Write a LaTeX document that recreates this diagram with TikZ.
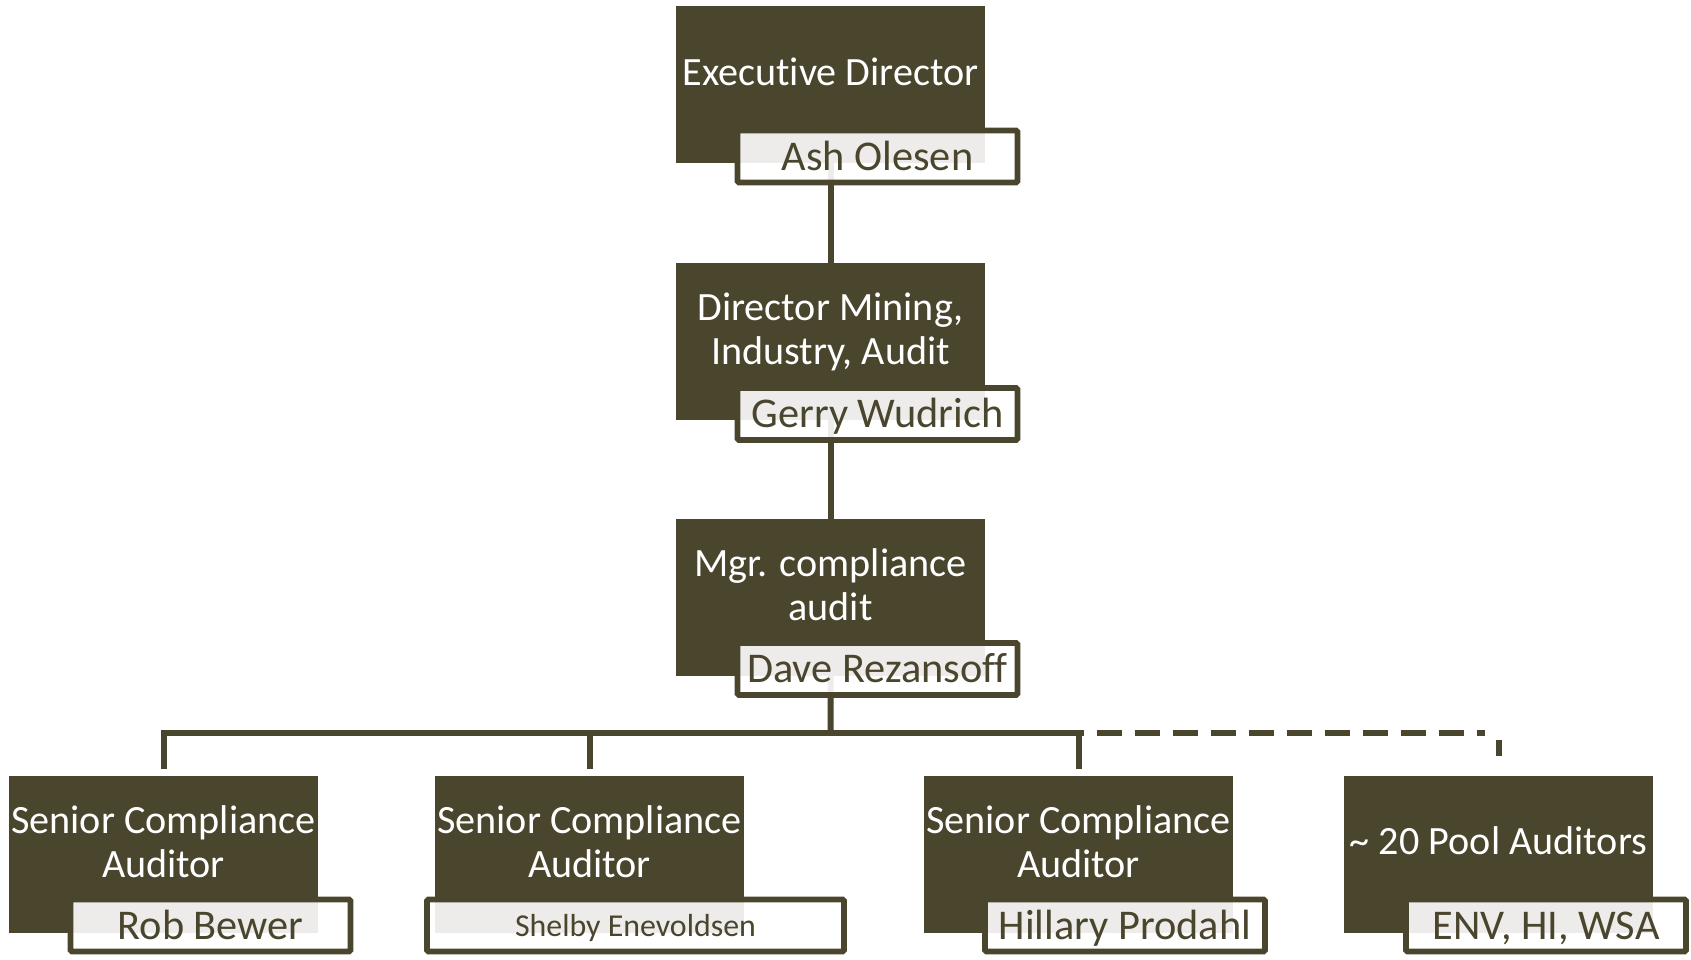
\documentclass[tikz,border=0pt]{standalone}
\usepackage{fontspec}
\setmainfont[Ligatures=NoCommon]{Carlito}
\usetikzlibrary{calc}
\definecolor{olive}{RGB}{74,69,45}
\begin{document}
\begin{tikzpicture}[x=1bp,y=-1bp,
  darkbox/.style={fill=olive, minimum width=309bp, minimum height=157bp, inner sep=0pt, outer sep=0pt, anchor=north west},
  namebox/.style={draw=olive, line width=5.8bp, fill=white, fill opacity=0.9, draw opacity=1, text opacity=1, text=olive,
    rounded corners=1.5bp, inner sep=0pt, outer sep=0pt, minimum width=280bp, minimum height=52bp,
    text height=27bp, text depth=0bp, font=\fontsize{42.5}{46}\selectfont},
  title/.style={text=white, align=center, font=\fontsize{40.3}{44}\selectfont, inner sep=0pt, anchor=base},
  conn/.style={draw=olive, line width=6bp},
]
\useasboundingbox (0,0) rectangle (1691,959);
\fill[white] (0,0) rectangle (1691,959);

% junction points
\coordinate (bus) at (830.5,733);
\coordinate (jA) at (163.5,769);
\coordinate (jB) at (589.5,769);
\coordinate (jC) at (1078.5,769);
\coordinate (jD) at (1498.5,756);
\coordinate (jDtop) at (1498.5,740);
\coordinate (busEnd) at (1485,733);

% dark boxes
\node[darkbox] (d1) at (676,6) {};
\node[darkbox] (d2) at (676,263) {};
\node[darkbox] (d3) at (676,519) {};
\node[darkbox] (dA) at (9,776) {};
\node[darkbox] (dB) at (435,776) {};
\node[darkbox] (dC) at (924,776) {};
\node[darkbox] (dD) at (1344,776) {};

% connectors
\draw[conn] (d1.south) -- (d2.north);
\draw[conn] (d2.south) -- (d3.north);
\draw[conn] (d3.south) -- (bus);
\draw[conn] (jA) |- (bus) -| (jC);
\draw[conn] (jB) -- (jB |- bus);
\draw[conn, dash pattern=on 25bp off 13bp] (bus) -- (busEnd);
\draw[conn] (jDtop) -- (jD);

% titles
\node[title] (t1) at (830.5,85) {Executive Director};
\node[title] (t2) at (830.5,364) {Director Mining,\\Industry, Audit};
\node[title] (t3) at (830.5,620) {Mgr. compliance\\audit};
\node[title] (tA) at (163.5,877) {Senior Compliance\\Auditor};
\node[title] (tB) at (589.5,877) {Senior Compliance\\Auditor};
\node[title] (tC) at (1078.5,877) {Senior Compliance\\Auditor};
\node[title] (tD) at (1498.5,854) {\textasciitilde{} 20 Pool Auditors};

% name boxes
\node[namebox] (n1) at (877.5,156.5) {Ash Olesen};
\node[namebox] (n2) at (877.5,414) {Gerry Wudrich};
\node[namebox] (n3) at (877.5,669) {Dave Rezansoff};
\node[namebox] (nA) at (210.5,925.5) {Rob Bewer};
\node[namebox, minimum width=417bp, text height=21bp, font=\fontsize{32}{38}\selectfont] (nB) at (635.5,925.5) {Shelby Enevoldsen};
\node[namebox] (nC) at (1125,925.5) {Hillary Prodahl};
\node[namebox] (nD) at (1546,925.5) {ENV, HI, WSA};
\end{tikzpicture}
\end{document}
